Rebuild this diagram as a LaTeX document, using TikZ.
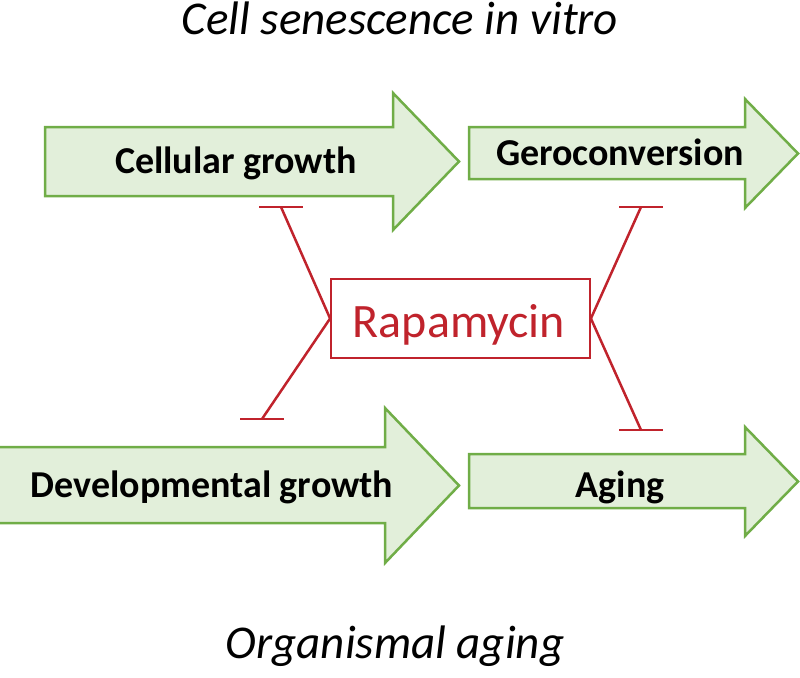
\documentclass[tikz,border=0pt]{standalone}
\usepackage{fontspec}
\setmainfont{Carlito}
\definecolor{arrfill}{HTML}{E2EFDA}
\definecolor{arrdraw}{HTML}{70AD47}
\definecolor{rapred}{HTML}{C0232C}
\tikzset{
  bigarrow/.style={draw=arrdraw, fill=arrfill, line width=2.5pt, line join=miter},
  arrtext/.style={font=\fontsize{38}{44}\selectfont\bfseries, anchor=base, inner sep=0pt},
  titletext/.style={font=\fontsize{47}{56}\selectfont\itshape, anchor=base, inner sep=0pt},
  inhib/.style={draw=rapred, line width=2.5pt},
}
\begin{document}
\begin{tikzpicture}[x=1pt,y=-1pt]
\useasboundingbox (0,0) rectangle (800,677);
% arrows
\draw[bigarrow] (45,127) -- (393,127) -- (393,93) -- (459,161.5) -- (393,230) -- (393,196) -- (45,196) -- cycle;
\draw[bigarrow] (469,127) -- (745,127) -- (745,99) -- (798,153.5) -- (745,208) -- (745,179) -- (469,179) -- cycle;
\draw[bigarrow] (-3,447) -- (385,447) -- (385,408) -- (459,485.5) -- (385,563) -- (385,523) -- (-3,523) -- cycle;
\draw[bigarrow] (469,454) -- (745,454) -- (745,427) -- (798,481.5) -- (745,536) -- (745,508) -- (469,508) -- cycle;
% arrow labels
\node[arrtext] (cg) at (236,173) {Cellular growth};
\node[arrtext] (gc) at (620,165) {Geroconversion};
\node[arrtext] (dg) at (212,497) {Developmental growth};
\node[arrtext] (ag) at (620,497) {Aging};
% titles
\node[titletext] (t1) at (400,35) {Cell senescence in vitro};
\node[titletext] (t2) at (395,658) {Organismal aging};
% rapamycin
\node[draw=rapred, line width=1.8pt, fill=white, minimum width=259pt, minimum height=79pt, inner sep=0pt] (rap) at (460.5,318.5) {};
\node[text=rapred, font=\fontsize{48}{56}\selectfont, anchor=base, inner sep=0pt] (raptext) at (459,337) {Rapamycin};
% inhibition ends
\coordinate (e1) at (281,207);
\coordinate (e2) at (262,419);
\coordinate (e3) at (641,207);
\coordinate (e4) at (641,430);
\draw[inhib] (rap.west) -- (e1);
\draw[inhib] (rap.west) -- (e2);
\draw[inhib] (rap.east) -- (e3);
\draw[inhib] (rap.east) -- (e4);
\draw[inhib] ([xshift=-22pt]e1) -- ([xshift=22pt]e1);
\draw[inhib] ([xshift=-22pt]e2) -- ([xshift=22pt]e2);
\draw[inhib] ([xshift=-22pt]e3) -- ([xshift=22pt]e3);
\draw[inhib] ([xshift=-22pt]e4) -- ([xshift=22pt]e4);
\end{tikzpicture}
\end{document}
